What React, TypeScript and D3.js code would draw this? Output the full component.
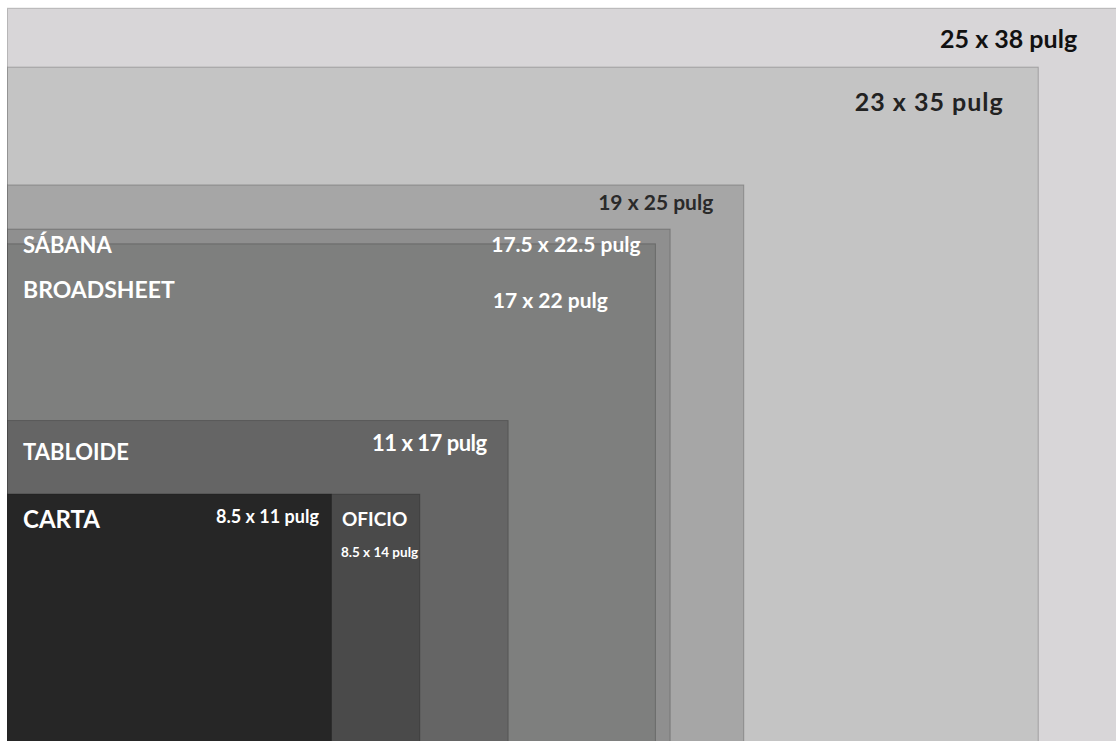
import React, { useEffect, useRef } from "react";
import * as d3 from "d3";

// Paper sizes (inches): short side drawn vertically, long side horizontally
const sizeLabels = ["25 x 38 pulg", "23 x 35 pulg", "19 x 25 pulg", "17.5 x 22.5 pulg", "17 x 22 pulg", "11 x 17 pulg", "8.5 x 14 pulg", "8.5 x 11 pulg"];
const shortSides = [25, 23, 19, 17.5, 17, 11, 8.5, 8.5];
const longSides = [38, 35, 25, 22.5, 22, 17, 14, 11];
const sheetNames = ["", "", "", "SÁBANA", "BROADSHEET", "TABLOIDE", "OFICIO", "CARTA"];

// styling (not data)
const fills = ["#d8d6d8", "#c4c4c4", "#a6a6a6", "#8f8f8f", "#7e7f7e", "#656565", "#4a4a4a", "#262626"];
const labelColors = ["#111", "#222", "#2a2a2a", "#fff", "#fff", "#fff", "#fff", "#fff"];
// label layout: [dx from right edge, y from top edge, font size, letter spacing]
const labelLayout: [number, number, number, number][] = [
  [-50, 40, 25, 0],
  [-35, 44, 25, 1],
  [-31, 26, 21, 0],
  [-30, 23, 21, 0],
  [-48, 65, 21, 0],
  [-22, 31, 22, -0.5],
  [0, 0, 0, 0],
  [-13, 29, 18, 0],
];

const W = 1116;
const H = 741;
const ORIGIN_X = 8;
const ORIGIN_Y = 744;
const PX_PER_IN = 29.45;

export default function App() {
  const ref = useRef<SVGSVGElement>(null);
  useEffect(() => {
    const svg = d3.select(ref.current);
    svg.selectAll("*").remove();
    const x = d3.scaleLinear().domain([0, 1]).range([ORIGIN_X, ORIGIN_X + PX_PER_IN]);
    const y = d3.scaleLinear().domain([0, 1]).range([ORIGIN_Y, ORIGIN_Y - PX_PER_IN]);
    const font = "Lato, 'Open Sans', sans-serif";

    const idx = d3.range(shortSides.length);
    svg
      .selectAll("rect.sheet")
      .data(idx)
      .join("rect")
      .attr("class", "sheet")
      .attr("x", x(0) - 0.5)
      .attr("y", (i) => y(shortSides[i]) + 0.5)
      .attr("width", (i) => x(longSides[i]) - x(0))
      .attr("height", (i) => y(0) - y(shortSides[i]))
      .attr("fill", (i) => fills[i])
      .attr("stroke", "rgba(0,0,0,0.22)")
      .attr("stroke-width", 1);

    // size labels
    idx.forEach((i) => {
      if (i === 6) return;
      const [dx, dy, fs, ls] = labelLayout[i];
      svg
        .append("text")
        .attr("x", x(longSides[i]) + dx)
        .attr("y", y(shortSides[i]) + dy)
        .attr("text-anchor", "end")
        .attr("font-family", font)
        .attr("font-weight", 700)
        .attr("font-size", fs)
        .attr("letter-spacing", ls)
        .attr("fill", labelColors[i])
        .text(sizeLabels[i]);
    });

    // name labels
    const nameY: Record<number, number> = { 3: 253, 4: 298, 5: 460, 7: 528 };
    const nameSize: Record<number, number> = { 3: 22, 4: 23, 5: 22, 7: 24 };
    [3, 4, 5, 7].forEach((i) => {
      svg
        .append("text")
        .attr("x", x(0) + 15)
        .attr("y", nameY[i])
        .attr("font-family", font)
        .attr("font-weight", 700)
        .attr("font-size", nameSize[i])
        .attr("fill", "#fff")
        .text(sheetNames[i]);
    });

    // Oficio labels, placed in the strip right of carta
    svg
      .append("text")
      .attr("x", x(longSides[7]) + 10)
      .attr("y", y(shortSides[6]) + 32)
      .attr("font-family", font)
      .attr("font-weight", 700)
      .attr("font-size", 19)
      .attr("fill", "#fff")
      .text(sheetNames[6]);
    svg
      .append("text")
      .attr("x", x(longSides[7]) + 9)
      .attr("y", y(shortSides[6]) + 63)
      .attr("font-family", font)
      .attr("font-weight", 700)
      .attr("font-size", 13.5)
      .attr("fill", "#fff")
      .text(sizeLabels[6]);
  }, []);

  return (
    <svg
      ref={ref}
      width={W}
      height={H}
      style={{ position: "absolute", left: 0, top: 0, display: "block", background: "#fff" }}
    />
  );
}
